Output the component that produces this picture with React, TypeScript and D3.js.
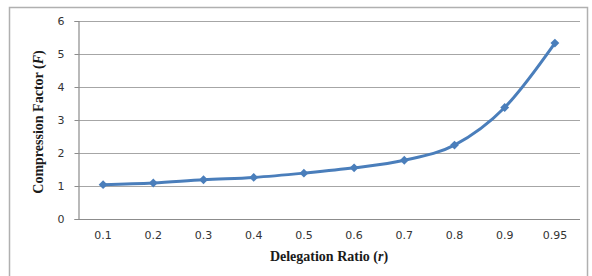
import { useEffect, useRef } from "react";
import * as d3 from "d3";

const ratios = ["0.1", "0.2", "0.3", "0.4", "0.5", "0.6", "0.7", "0.8", "0.9", "0.95"];
const factors = [1.04, 1.09, 1.19, 1.26, 1.39, 1.55, 1.78, 2.24, 3.38, 5.33];
const yTicks = [0, 1, 2, 3, 4, 5, 6];

export default function App() {
  const ref = useRef<SVGSVGElement>(null);

  useEffect(() => {
    if (!ref.current) return;
    const svg = d3.select(ref.current);
    svg.selectAll("*").remove();

    const width = 592;
    const height = 276;
    const margin = { top: 21, right: 12, bottom: 57, left: 78 };

    svg.attr("width", width).attr("height", height);

    // chart frame
    svg
      .append("rect")
      .attr("x", 9.5)
      .attr("y", 7.5)
      .attr("width", 578)
      .attr("height", 270)
      .attr("fill", "#fff")
      .attr("stroke", "#b0b0b0")
      .attr("stroke-width", 1.5);

    const x = d3
      .scaleBand()
      .domain(ratios)
      .range([margin.left, width - margin.right]);

    const y = d3
      .scaleLinear()
      .domain([0, 6])
      .range([height - margin.bottom, margin.top]);

    // gridlines
    svg
      .append("g")
      .selectAll("line")
      .data(yTicks)
      .join("line")
      .attr("x1", margin.left)
      .attr("x2", width - margin.right)
      .attr("y1", (d) => Math.round(y(d)) + 0.5)
      .attr("y2", (d) => Math.round(y(d)) + 0.5)
      .attr("stroke", (d) => (d === 0 ? "#8c8c8c" : "#a6a6a6"))
      .attr("stroke-width", 1.2);

    // y axis
    const yAxis = svg
      .append("g")
      .attr("transform", `translate(${margin.left + 0.5},0)`)
      .call(
        d3
          .axisLeft(y)
          .tickValues(yTicks)
          .tickFormat(d3.format("d"))
          .tickSize(4)
          .tickPadding(10)
      );
    yAxis.select(".domain").attr("stroke", "#8c8c8c").attr("stroke-width", 1.2);
    yAxis.selectAll(".tick line").attr("stroke", "#8c8c8c");
    yAxis
      .selectAll("text")
      .style("font-family", "DejaVu Sans")
      .style("font-size", "11px")
      .attr("fill", "#333");

    // x axis
    const xAxis = svg
      .append("g")
      .attr("transform", `translate(0,${Math.round(y(0)) + 0.5})`)
      .call(d3.axisBottom(x).tickSize(0).tickPadding(12));
    xAxis.select(".domain").remove();
    xAxis
      .selectAll("text")
      .style("font-family", "DejaVu Sans")
      .style("font-size", "11px")
      .attr("fill", "#333");

    const cx = (d: string) => (x(d) || 0) + x.bandwidth() / 2;

    const line = d3
      .line<number>()
      .x((_, i) => cx(ratios[i]))
      .y((d) => y(d))
      .curve(d3.curveCardinal.tension(0));

    svg
      .append("path")
      .datum(factors)
      .attr("d", line)
      .attr("fill", "none")
      .attr("stroke", "#4a7ebb")
      .attr("stroke-width", 3);

    const diamond = d3.symbol().type(d3.symbolDiamond2).size(50);
    svg
      .append("g")
      .selectAll("path")
      .data(factors)
      .join("path")
      .attr("d", diamond)
      .attr("transform", (d, i) => `translate(${cx(ratios[i])},${y(d)})`)
      .attr("fill", "#4a7ebb");

    // axis titles
    const xTitle = svg
      .append("text")
      .attr("x", (margin.left + width - margin.right) / 2)
      .attr("y", 261)
      .attr("text-anchor", "middle")
      .style("font-family", "Liberation Serif")
      .style("font-weight", "bold")
      .style("font-size", "14px")
      .attr("fill", "#1a1a1a");
    xTitle.append("tspan").text("Delegation Ratio (");
    xTitle.append("tspan").style("font-style", "italic").text("r");
    xTitle.append("tspan").text(")");

    const yTitle = svg
      .append("text")
      .attr("transform", `translate(43,${(y(0) + y(6)) / 2 + 2}) rotate(-90)`)
      .attr("text-anchor", "middle")
      .style("font-family", "Liberation Serif")
      .style("font-weight", "bold")
      .style("font-size", "14px")
      .attr("fill", "#1a1a1a");
    yTitle.append("tspan").text("Compression Factor (");
    yTitle.append("tspan").style("font-style", "italic").text("F");
    yTitle.append("tspan").text(")");
  }, []);

  return (
    <svg
      ref={ref}
      style={{ position: "absolute", left: 0, top: 0, background: "#fff" }}
    ></svg>
  );
}
